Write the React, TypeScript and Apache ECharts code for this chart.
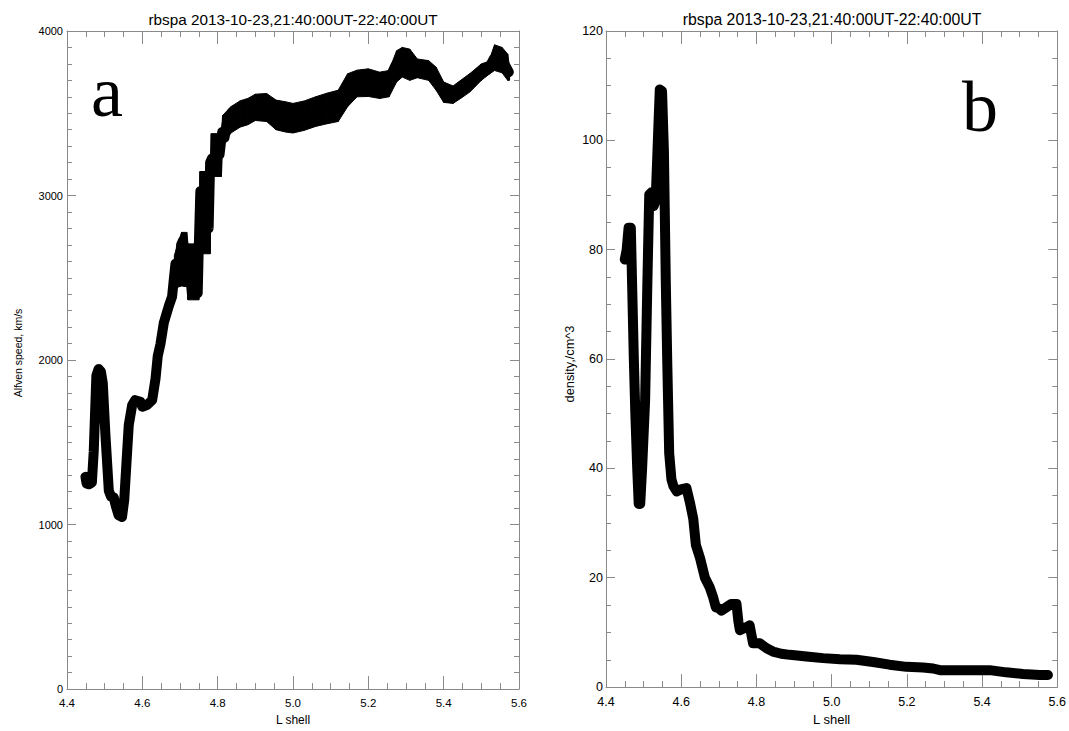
import React, { useEffect, useRef } from "react";
import * as echarts from "echarts";

const TITLE = "rbspa 2013-10-23,21:40:00UT-22:40:00UT";
const X_NAME = "L shell";
const Y_NAME_A = "Alfven speed, km/s";
const Y_NAME_B = "density,/cm^3";

// Panel a: L shell vs Alfven speed (km/s), centre of the trace
const lShellA = [
  4.449, 4.452, 4.458, 4.466, 4.471, 4.478, 4.484, 4.49, 4.495, 4.502, 4.511, 4.517, 4.524, 4.53,
  4.537, 4.546, 4.552, 4.558, 4.564, 4.573, 4.581, 4.595, 4.6, 4.612, 4.626, 4.635, 4.641, 4.648,
  4.657, 4.67, 4.679, 4.684, 4.688, 4.697, 4.703, 4.708, 4.714, 4.72, 4.728, 4.732, 4.736, 4.747,
  4.75, 4.754, 4.758, 4.763, 4.768, 4.772, 4.776, 4.78, 4.785, 4.79, 4.798, 4.805, 4.812, 4.818,
  4.825, 4.832, 4.838, 4.851, 4.865, 4.878, 4.892, 4.905, 4.918, 4.931, 4.945, 4.958, 4.972, 4.985,
  5.0, 5.007, 5.018, 5.029, 5.043, 5.056, 5.07, 5.082, 5.095, 5.109, 5.122, 5.135, 5.148, 5.162,
  5.175, 5.188, 5.202, 5.215, 5.228, 5.241, 5.25, 5.259, 5.272, 5.286, 5.295, 5.303, 5.312, 5.321,
  5.33, 5.339, 5.352, 5.365, 5.374, 5.383, 5.392, 5.401, 5.41, 5.418, 5.427, 5.436, 5.445, 5.454,
  5.465, 5.476, 5.487, 5.498, 5.509, 5.52, 5.526, 5.533, 5.54, 5.546, 5.553, 5.56, 5.566, 5.573,
];
const alfvenSpeed = [
  1290, 1250, 1245, 1255, 1446, 1906, 1946, 1930, 1860, 1546, 1206, 1170, 1166, 1110,
  1056, 1046, 1150, 1380, 1606, 1726, 1756, 1746, 1716, 1726, 1756, 1886, 2026, 2096,
  2226, 2326, 2386, 2500, 2586, 2546, 2700, 2726, 2506, 2600, 2666, 2450, 2426, 2406,
  2700, 3026, 2800, 2926, 2750, 3100, 2800, 3200, 3226, 3150, 3306, 3250, 3386, 3350,
  3446, 3420, 3506, 3496, 3500, 3510, 3510, 3536, 3530, 3536, 3510, 3490, 3480, 3476,
  3470, 3466, 3470, 3480, 3490, 3506, 3515, 3530, 3530, 3526, 3545, 3600, 3650, 3686,
  3690, 3690, 3690, 3676, 3670, 3666, 3690, 3726, 3790, 3810, 3810, 3800, 3790, 3780,
  3776, 3770, 3766, 3756, 3730, 3696, 3660, 3636, 3615, 3606, 3610, 3626, 3650, 3670,
  3690, 3710, 3730, 3750, 3770, 3776, 3800, 3830, 3840, 3830, 3820, 3800, 3780, 3750,
];
// Panel a: upper / lower edges of the noisy band (steep part and plateau)
const bandLA = [
  4.685, 4.704, 4.718, 4.721, 4.75, 4.753, 4.78, 4.783, 4.81, 4.813,
  4.835, 4.86, 4.88, 4.9, 4.93, 4.955, 4.98, 5.0, 5.03, 5.06, 5.09, 5.12, 5.145, 5.17,
  5.2, 5.23, 5.255, 5.275, 5.29, 5.31, 5.33, 5.36, 5.38, 5.4, 5.425, 5.445, 5.47, 5.5,
  5.52, 5.535, 5.555, 5.57, 5.575,
];
const bandLowA = [
  2436, 2450, 2446, 2366, 2366, 2646, 2646, 3116, 3116, 3296,
  3380, 3416, 3430, 3456, 3450, 3400, 3386, 3380, 3396, 3420, 3436, 3450, 3540, 3600,
  3602, 3590, 3600, 3690, 3720, 3700, 3716, 3700, 3640, 3566, 3560, 3590, 3630, 3700,
  3736, 3760, 3746, 3700, 3700,
];
const bandHighA = [
  2636, 2776, 2776, 2706, 2706, 3146, 3146, 3376, 3376, 3486,
  3540, 3576, 3590, 3616, 3620, 3580, 3570, 3560, 3575, 3600, 3622, 3640, 3740, 3762,
  3770, 3750, 3760, 3880, 3900, 3890, 3830, 3820, 3780, 3690, 3666, 3700, 3742, 3800,
  3816, 3916, 3900, 3860, 3780,
];

// Panel b: L shell vs density (/cm^3)
const lShellB = [
  4.45, 4.455, 4.46, 4.466, 4.47, 4.474, 4.478, 4.483, 4.487, 4.491, 4.496, 4.504, 4.51, 4.515,
  4.521, 4.527, 4.532, 4.539, 4.543, 4.549, 4.554, 4.559, 4.563, 4.568, 4.574, 4.579, 4.588, 4.601,
  4.614, 4.623, 4.632, 4.639, 4.65, 4.663, 4.676, 4.685, 4.692, 4.7, 4.707, 4.72, 4.733, 4.747,
  4.752, 4.756, 4.769, 4.782, 4.791, 4.809, 4.827, 4.844, 4.866, 4.889, 4.933, 4.977, 5.022, 5.066,
  5.11, 5.154, 5.199, 5.243, 5.27, 5.288, 5.332, 5.376, 5.42, 5.464, 5.509, 5.553, 5.575,
];
const density = [
  78.2, 80, 84, 84, 72, 60, 50, 40, 33.5, 33.5, 40, 52.4, 74, 90.1,
  90.5, 88, 89, 102, 109.3, 109, 98, 74, 59, 42.8, 38, 36.8, 35.8, 36.2,
  36.4, 33.8, 30.8, 26, 23.6, 20, 18.2, 16.4, 14.6, 14.4, 14, 14.6, 15.2, 15.2,
  12, 10.4, 10.8, 11.3, 8, 8, 7.1, 6.5, 6.1, 5.9, 5.6, 5.3, 5.1, 5.0,
  4.6, 4.1, 3.7, 3.6, 3.4, 3.1, 3.1, 3.1, 3.1, 2.7, 2.4, 2.2, 2.2,
];

const X_MIN = 4.4;
const X_MAX = 5.6;
const X_STEP = 0.2;
const YA = { min: 0, max: 4000, step: 1000, minorSplit: 10 };
const YB = { min: 0, max: 120, step: 20, minorSplit: 4 };

const FRAME = "#8a8a8a";
const SANS = "Liberation Sans, Arial, Helvetica, sans-serif";
const SERIF = "Liberation Serif, Times New Roman, serif";

function xAxis(grid: number, pos: "bottom" | "top", labelSize: number) {
  const main = pos === "bottom";
  return {
    type: "value",
    gridIndex: grid,
    position: pos,
    min: X_MIN,
    max: X_MAX,
    interval: X_STEP,
    splitLine: { show: false },
    axisLine: { show: true, onZero: false, lineStyle: { color: FRAME, width: 1 } },
    axisTick: { show: true, inside: true, length: 13, lineStyle: { color: FRAME } },
    minorTick: { show: true, splitNumber: 4, length: 6, lineStyle: { color: FRAME } },
    axisLabel: {
      show: main,
      color: "#000",
      fontFamily: SANS,
      fontSize: labelSize,
      margin: 8,
      formatter: (v: number) => v.toFixed(1),
    },
    name: main ? X_NAME : "",
    nameLocation: "middle",
    nameGap: 22,
    nameTextStyle: { color: "#000", fontFamily: SANS, fontSize: labelSize + 0.5 },
  };
}

function yAxis(
  grid: number,
  pos: "left" | "right",
  cfg: { min: number; max: number; step: number; minorSplit: number },
  labelSize: number,
  margin: number
) {
  const main = pos === "left";
  return {
    type: "value",
    gridIndex: grid,
    position: pos,
    min: cfg.min,
    max: cfg.max,
    interval: cfg.step,
    splitLine: { show: false },
    axisLine: { show: true, onZero: false, lineStyle: { color: FRAME, width: 1 } },
    axisTick: { show: true, inside: true, length: 9, lineStyle: { color: FRAME } },
    minorTick: { show: true, splitNumber: cfg.minorSplit, length: 5, lineStyle: { color: FRAME } },
    axisLabel: {
      show: main,
      color: "#000",
      fontFamily: SANS,
      fontSize: labelSize,
      margin,
      formatter: (v: number) => String(Math.round(v)),
    },
  };
}

export default function App() {
  const ref = useRef<HTMLDivElement>(null);

  useEffect(() => {
    if (!ref.current) return;
    const chart = echarts.init(ref.current, null, { renderer: "svg" });
    const dataA = lShellA.map((l, i) => [l, alfvenSpeed[i]]);
    const dataB = lShellB.map((l, i) => [l, density[i]]);
    // band segments: [L0, low0, high0, L1, low1, high1]
    const bandSegs = bandLA.slice(0, -1).map((l, i) => [
      l,
      bandLowA[i],
      bandHighA[i],
      bandLA[i + 1],
      bandLowA[i + 1],
      bandHighA[i + 1],
    ]);

    const option = {
      animation: false,
      backgroundColor: "#fff",
      grid: [
        { left: 67, top: 31, width: 452, height: 667 },
        { left: 606, top: 31, width: 452, height: 667 },
      ],
      xAxis: [xAxis(0, "bottom", 11.5), xAxis(0, "top", 11.5), xAxis(1, "bottom", 12.5), xAxis(1, "top", 12.5)],
      yAxis: [
        yAxis(0, "left", YA, 11, 4),
        yAxis(0, "right", YA, 11, 4),
        yAxis(1, "left", YB, 12.5, 3),
        yAxis(1, "right", YB, 12.5, 3),
      ],
      series: [
        {
          type: "custom",
          name: "band",
          xAxisIndex: 0,
          yAxisIndex: 0,
          silent: true,
          data: bandSegs,
          encode: { x: [0, 3], y: [1, 2, 4, 5] },
          renderItem: (params: any, api: any) => {
            const p0h = api.coord([api.value(0), api.value(2)]);
            const p1h = api.coord([api.value(3), api.value(5)]);
            const p1l = api.coord([api.value(3), api.value(4)]);
            const p0l = api.coord([api.value(0), api.value(1)]);
            return {
              type: "polygon",
              shape: { points: [p0h, p1h, p1l, p0l] },
              style: { fill: "#000", stroke: "#000", lineWidth: 1 },
            };
          },
        },
        {
          type: "line",
          name: Y_NAME_A,
          xAxisIndex: 0,
          yAxisIndex: 0,
          data: dataA,
          showSymbol: false,
          lineStyle: { color: "#000", width: 10, join: "round", cap: "round" },
        },
        {
          type: "line",
          name: Y_NAME_B,
          xAxisIndex: 2,
          yAxisIndex: 2,
          data: dataB,
          showSymbol: false,
          lineStyle: { color: "#000", width: 10, join: "round", cap: "round" },
        },
      ],
      graphic: [
        {
          type: "text",
          x: 293,
          y: 19,
          style: { text: TITLE, fill: "#000", font: `15.3px ${SANS}`, align: "center", verticalAlign: "middle" },
        },
        {
          type: "text",
          x: 832,
          y: 19,
          style: { text: TITLE, fill: "#000", font: `15.8px ${SANS}`, align: "center", verticalAlign: "middle" },
        },
        {
          type: "text",
          x: 18,
          y: 353,
          rotation: Math.PI / 2,
          style: { text: Y_NAME_A, fill: "#000", font: `10.5px ${SANS}`, align: "center", verticalAlign: "middle" },
        },
        {
          type: "text",
          x: 569,
          y: 364,
          rotation: Math.PI / 2,
          style: { text: Y_NAME_B, fill: "#000", font: `12.8px ${SANS}`, align: "center", verticalAlign: "middle" },
        },
        {
          type: "text",
          x: 91,
          y: 92,
          style: { text: "a", fill: "#000", font: `72px ${SERIF}`, align: "left", verticalAlign: "middle" },
        },
        {
          type: "text",
          x: 962,
          y: 107,
          style: { text: "b", fill: "#000", font: `72px ${SERIF}`, align: "left", verticalAlign: "middle" },
        },
      ],
    };
    chart.setOption(option as any);
    return () => chart.dispose();
  }, []);

  return (
    <div
      ref={ref}
      style={{ position: "fixed", left: 0, top: 0, width: 1069, height: 731, background: "#fff" }}
    />
  );
}
